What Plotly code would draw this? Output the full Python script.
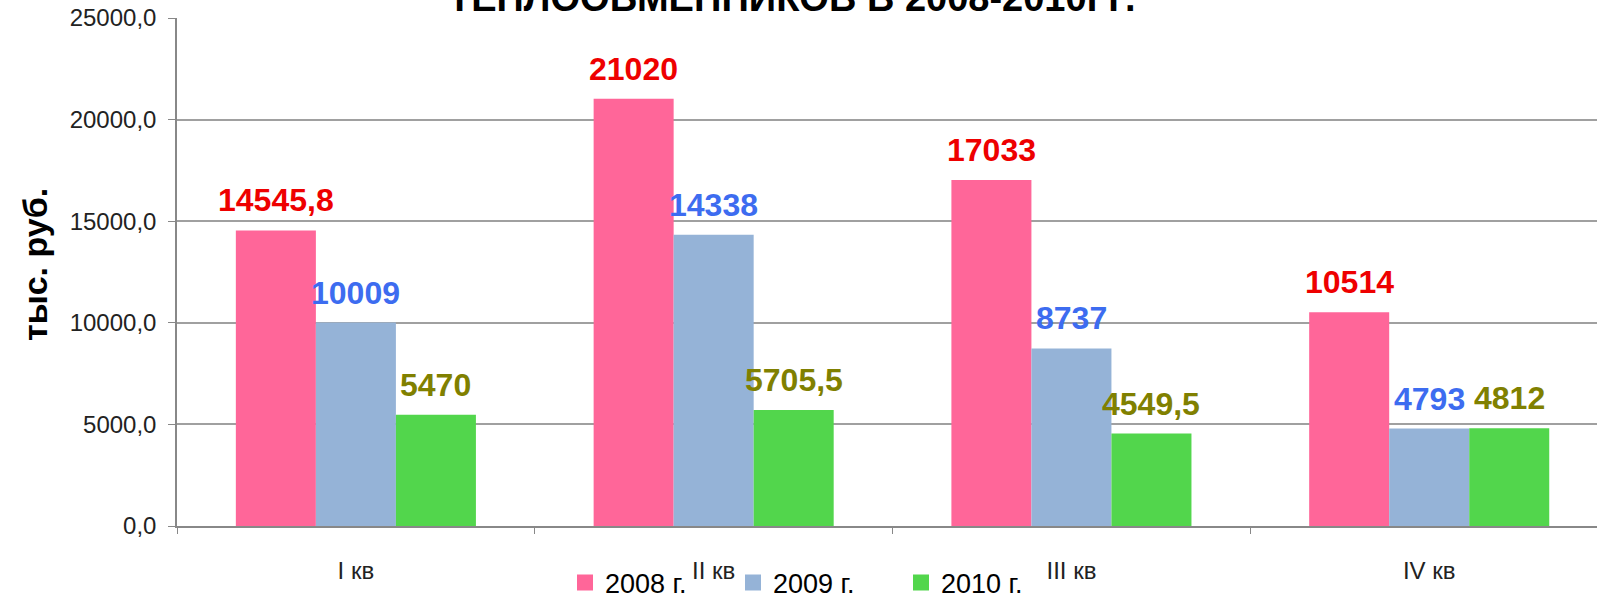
import plotly.graph_objects as go

categories = ["I кв", "II кв", "III кв", "IV кв"]
series_names = ["2008 г.", "2009 г.", "2010 г."]
values_2008 = [14545.8, 21020, 17033, 10514]
values_2009 = [10009, 14338, 8737, 4793]
values_2010 = [5470, 5705.5, 4549.5, 4812]
labels_2008 = ["14545,8", "21020", "17033", "10514"]
labels_2009 = ["10009", "14338", "8737", "4793"]
labels_2010 = ["5470", "5705,5", "4549,5", "4812"]
ytick_vals = [0, 5000, 10000, 15000, 20000, 25000]
ytick_text = ["0,0", "5000,0", "10000,0", "15000,0", "20000,0", "25000,0"]
title_text = "ТЕПЛООБМЕННИКОВ В 2008-2010ГГ."
yaxis_title = "тыс. руб."

bar_colors = ["#ff6699", "#95b3d7", "#52d64c"]
label_colors = ["#ee0000", "#3d6cf0", "#808000"]
FONT = "Arial, Liberation Sans, sans-serif"

W, H = 1597, 600
ML, MR, MT, MB = 177, 0, 18, 74
plot_w = W - ML - MR
x_lo, x_hi = -0.5, 3.469
cat_px = plot_w / (x_hi - x_lo)
bargap = 0.329
bar_px = cat_px * (1 - bargap) / 3

fig = go.Figure()
all_vals = [values_2008, values_2009, values_2010]
all_labels = [labels_2008, labels_2009, labels_2010]
for name, vals, col in zip(series_names, all_vals, bar_colors):
    fig.add_trace(go.Bar(x=categories, y=vals, name=name, showlegend=False,
                         marker=dict(color=col, line=dict(width=0))))
# legend entries (square swatches)
for name, col in zip(series_names, bar_colors):
    fig.add_trace(go.Scatter(x=[None], y=[None], mode="markers", name=name,
                             marker=dict(symbol="square", size=19, color=col)))

annotations = []
for si, (vals, labs) in enumerate(zip(all_vals, all_labels)):
    for c, v, t in zip(categories, vals, labs):
        annotations.append(dict(
            x=c, y=v, xref="x", yref="y", text="<b>%s</b>" % t, showarrow=False,
            xanchor="center", yanchor="bottom", xshift=(si - 1) * bar_px, yshift=10,
            font=dict(family=FONT, size=32, color=label_colors[si])))

annotations.append(dict(
    x=(792 - ML) / plot_w, y=1, xref="paper", yref="paper", text="<b>%s</b>" % title_text,
    showarrow=False, xanchor="center", yanchor="bottom", yshift=-3,
    font=dict(family=FONT, size=38, color="black")))
annotations.append(dict(
    x=(35 - ML) / plot_w, y=(526 - 265) / (526 - 18), xref="paper", yref="paper",
    text="<b>%s</b>" % yaxis_title, showarrow=False, textangle=-90,
    xanchor="center", yanchor="middle",
    font=dict(family=FONT, size=34, color="black")))

fig.update_layout(
    width=W, height=H,
    margin=dict(l=ML, r=MR, t=MT, b=MB, pad=0, autoexpand=False),
    paper_bgcolor="white", plot_bgcolor="white",
    barmode="group", bargap=bargap, bargroupgap=0,
    font=dict(family=FONT, color="#222222"),
    annotations=annotations,
    showlegend=True,
    legend=dict(orientation="h", x=(565 - ML) / plot_w, xanchor="left",
                y=-(583 - 526) / (526 - 18), yanchor="middle",
                font=dict(family=FONT, size=27, color="black"),
                entrywidth=123, entrywidthmode="pixels",
                bgcolor="rgba(0,0,0,0)", traceorder="normal"),
    xaxis=dict(range=[x_lo, x_hi], tickson="boundaries", ticks="outside", ticklen=6,
               tickcolor="#888888", showline=True, linecolor="#888888", linewidth=1.5,
               showgrid=False, tickfont=dict(family=FONT, size=24, color="#222222"),
               ticklabelstandoff=22, automargin=False),
    yaxis=dict(range=[0, 25000], tickvals=ytick_vals, ticktext=ytick_text,
               ticks="outside", ticklen=7, tickcolor="#888888",
               showline=True, linecolor="#888888", linewidth=1.5,
               showgrid=True, gridcolor="#a0a0a0", gridwidth=1.5, zeroline=False,
               tickfont=dict(family=FONT, size=24, color="#222222"),
               ticklabelstandoff=7, automargin=False),
)

fig.write_html("out.html")
